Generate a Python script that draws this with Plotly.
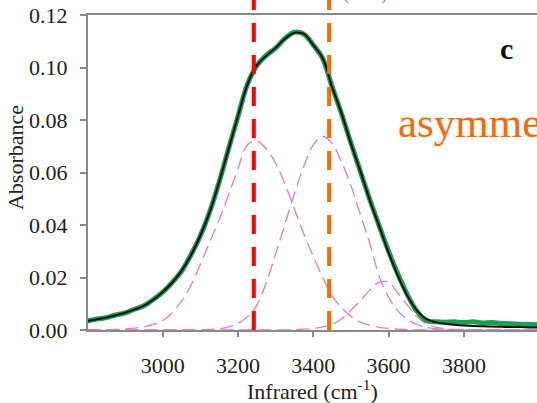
import plotly.graph_objects as go

# Wavenumber grid (cm^-1)
wavenumber = [2800 + 25 * i for i in range(49)]

# Fitted envelope (black)
fit_total = [
    0.0035, 0.0041, 0.0048, 0.0056, 0.0066, 0.0078, 0.0093, 0.0115, 0.0145,
    0.0180, 0.0225, 0.0285, 0.0360, 0.0450, 0.0565, 0.0690, 0.0815, 0.0935,
    0.1008, 0.1045, 0.1075, 0.1110, 0.1132, 0.1128, 0.1085, 0.1035, 0.0925,
    0.0825, 0.0710, 0.0605, 0.0495, 0.0395, 0.0295, 0.0205, 0.0130, 0.0075,
    0.0042, 0.0030, 0.0024, 0.0020, 0.0017, 0.0015, 0.0014, 0.0013, 0.0012,
    0.0011, 0.0011, 0.0010, 0.0010,
]

# Measured spectrum (green)
measured = [
    0.0034, 0.0042, 0.0047, 0.0057, 0.0065, 0.0079, 0.0092, 0.0116, 0.0144,
    0.0181, 0.0224, 0.0286, 0.0359, 0.0451, 0.0564, 0.0691, 0.0814, 0.0936,
    0.1007, 0.1046, 0.1074, 0.1111, 0.1134, 0.1127, 0.1086, 0.1034, 0.0927,
    0.0824, 0.0712, 0.0604, 0.0497, 0.0397, 0.0300, 0.0212, 0.0134, 0.0072,
    0.0036, 0.0031, 0.0030, 0.0031, 0.0029, 0.0031, 0.0027, 0.0029, 0.0025,
    0.0024, 0.0022, 0.0021, 0.0020,
]

# Fitted Gaussian components (pink dashed)
band_1 = [
    0.0000, 0.0000, 0.0001, 0.0002, 0.0004, 0.0007, 0.0012, 0.0021, 0.0036,
    0.0065, 0.0110, 0.0170, 0.0250, 0.0335, 0.0420, 0.0515, 0.0615, 0.0705,
    0.0720, 0.0690, 0.0635, 0.0555, 0.0460, 0.0365, 0.0280, 0.0200, 0.0130,
    0.0085, 0.0052, 0.0030, 0.0018, 0.0010, 0.0006, 0.0003, 0.0001, 0.0000,
    0.0000, 0.0000, 0.0000, 0.0000, 0.0000, 0.0000, 0.0000, 0.0000, 0.0000,
    0.0000, 0.0000, 0.0000, 0.0000,
]
band_2 = [
    0.0000, 0.0000, 0.0000, 0.0000, 0.0000, 0.0000, 0.0000, 0.0000, 0.0000,
    0.0000, 0.0000, 0.0000, 0.0000, 0.0002, 0.0005, 0.0012, 0.0025, 0.0050,
    0.0095, 0.0180, 0.0290, 0.0405, 0.0520, 0.0625, 0.0705, 0.0738, 0.0710,
    0.0640, 0.0550, 0.0440, 0.0330, 0.0205, 0.0125, 0.0072, 0.0040, 0.0021,
    0.0010, 0.0005, 0.0002, 0.0001, 0.0000, 0.0000, 0.0000, 0.0000, 0.0000,
    0.0000, 0.0000, 0.0000, 0.0000,
]
band_3 = [
    0.0000, 0.0000, 0.0000, 0.0000, 0.0000, 0.0000, 0.0000, 0.0000, 0.0000,
    0.0000, 0.0000, 0.0000, 0.0000, 0.0000, 0.0000, 0.0000, 0.0000, 0.0000,
    0.0000, 0.0000, 0.0000, 0.0000, 0.0001, 0.0003, 0.0006, 0.0012, 0.0022,
    0.0042, 0.0075, 0.0112, 0.0152, 0.0182, 0.0182, 0.0140, 0.0095, 0.0050,
    0.0024, 0.0011, 0.0005, 0.0002, 0.0001, 0.0000, 0.0000, 0.0000, 0.0000,
    0.0000, 0.0000, 0.0000, 0.0000,
]

# Band positions marked by vertical lines
band_markers = [3242, 3442]
marker_colors = ["#FF0000", "#FF6A00"]

x_ticks = [3000, 3200, 3400, 3600, 3800]
y_ticks = [0.00, 0.02, 0.04, 0.06, 0.08, 0.10, 0.12]

SERIF = "Liberation Serif, Times New Roman, serif"
AXIS_GREY = "#8a8a8a"
TEXT = "#222222"

fig = go.Figure()

for band in (band_1, band_2, band_3):
    fig.add_trace(go.Scatter(
        x=wavenumber, y=band, mode="lines",
        line=dict(color="#E27CBE", width=1.3, dash="13px,6px", shape="spline"),
        hoverinfo="skip",
    ))

fig.add_trace(go.Scatter(
    x=wavenumber, y=measured, mode="lines",
    line=dict(color="#1E9E55", width=5, shape="spline"),
))
fig.add_trace(go.Scatter(
    x=wavenumber, y=fit_total, mode="lines",
    line=dict(color="#111111", width=2, shape="spline"),
))

for pos, col in zip(band_markers, marker_colors):
    fig.add_shape(
        type="line", xref="x", yref="paper",
        x0=pos, x1=pos, y0=0, y1=1.06,
        line=dict(color=col, width=4, dash="19px,13px"),
        layer="above",
    )

fig.update_layout(
    width=537, height=403,
    margin=dict(l=88, r=0, t=15, b=73),
    paper_bgcolor="white", plot_bgcolor="white",
    showlegend=False,
    font=dict(family=SERIF, size=22, color=TEXT),
    xaxis=dict(
        range=[2801.6, 3994.2],
        tickvals=x_ticks, ticktext=[str(v) for v in x_ticks],
        showline=True, linecolor=AXIS_GREY, linewidth=2, mirror=True,
        ticks="outside", ticklen=5, tickcolor=AXIS_GREY, tickwidth=1.5,
        ticklabelstandoff=10,
        showgrid=False, zeroline=False, layer="below traces",
        tickfont=dict(family=SERIF, size=22, color=TEXT),
    ),
    yaxis=dict(
        range=[0, 0.12],
        tickvals=y_ticks, tickformat=".2f",
        showline=True, linecolor=AXIS_GREY, linewidth=2,
        ticks="outside", ticklen=6, tickcolor=AXIS_GREY, tickwidth=1.5,
        ticklabelstandoff=8,
        showgrid=False, zeroline=False, layer="below traces",
        tickfont=dict(family=SERIF, size=22, color=TEXT),
    ),
    annotations=[
        dict(text="Absorbance", textangle=-90, xref="paper", yref="paper",
             x=-0.1626, y=0.549, xanchor="center", yanchor="middle",
             showarrow=False, font=dict(family=SERIF, size=22, color=TEXT)),
        dict(text="Infrared (cm<sup>-1</sup>)", xref="paper", yref="paper",
             x=0.501, y=-0.192, xanchor="center", yanchor="middle",
             showarrow=False, font=dict(family=SERIF, size=22, color=TEXT)),
        dict(text="<b>c</b>", xref="paper", yref="paper",
             x=0.933, y=0.895, xanchor="center", yanchor="middle",
             showarrow=False, font=dict(family=SERIF, size=30, color="#111111")),
        dict(text="asymmetric", xref="paper", yref="paper",
             x=0.686, y=0.658, xanchor="left", yanchor="middle",
             showarrow=False, font=dict(family=SERIF, size=43, color="#FF6600")),
        dict(text="(OH)", xref="paper", yref="paper",
             x=0.617, y=1.075, xanchor="center", yanchor="middle",
             showarrow=False, font=dict(family=SERIF, size=22, color="#999999")),
    ],
)

fig.write_html("out.html")
